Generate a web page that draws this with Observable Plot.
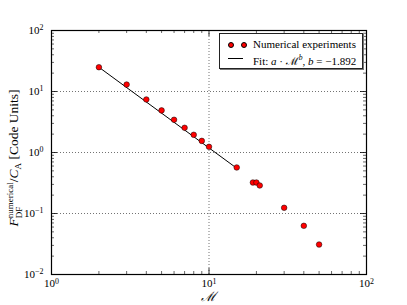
<!DOCTYPE html>
<html><head><meta charset="utf-8">
<script src="https://cdn.jsdelivr.net/npm/d3@7"></script>
<script src="https://cdn.jsdelivr.net/npm/@observablehq/plot@0.6"></script>
<style>
body{margin:0;background:#fff;}
#wrap{position:relative;width:407px;height:305px;font-family:"Liberation Serif","DejaVu Serif",serif;}
#legend{position:absolute;left:219px;top:33px;width:142px;height:34px;border:1px solid #222;box-shadow:1px 1px 0 #777;background:#fff;font-size:11px;color:#000;font-family:"Liberation Serif","DejaVu Serif",serif;}
#legend .row{position:absolute;left:0;height:14px;line-height:14px;white-space:nowrap;}
#legend .dot{position:absolute;width:4px;height:4px;border-radius:50%;background:#f00;border:0.5px solid #000;}
#legend .ln{position:absolute;height:0;border-top:1px solid #000;}
#legend .txt{position:absolute;left:33px;font-family:"Liberation Serif",serif;}
</style></head><body><div id="wrap"></div>
<script>
const machNumbers = [2, 3, 4, 5, 6, 7, 8, 9, 10, 15, 19, 20, 21, 30, 40, 50];
const forceValues = [25.0, 13.0, 7.4, 4.9, 3.44, 2.54, 1.95, 1.55, 1.24, 0.568, 0.322, 0.322, 0.288, 0.124, 0.0628, 0.031];
const fitMach = [2, 15];
const fitForce = [25.0, 0.552];
const xMajor = [1, 10, 100];
const yMajor = [0.01, 0.1, 1, 10, 100];
const xMinor = [2, 3, 4, 5, 6, 7, 8, 9, 20, 30, 40, 50, 60, 70, 80, 90];
const yMinor = [0.02, 0.03, 0.04, 0.05, 0.06, 0.07, 0.08, 0.09, 0.2, 0.3, 0.4, 0.5, 0.6, 0.7, 0.8, 0.9,
  2, 3, 4, 5, 6, 7, 8, 9, 20, 30, 40, 50, 60, 70, 80, 90];
const xGrid = [10];
const yGrid = [0.1, 1, 10];
const legendLabels = ["Numerical experiments", "Fit: <i>a</i> · ℳ<sup style=\"font-size:0.7em;font-style:italic\">b</sup>, <i>b</i> = −1.892"];

const points = machNumbers.map((m, i) => ({m, f: forceValues[i]}));
const fit = fitMach.map((m, i) => ({m, f: fitForce[i]}));

const W = 407, H = 305, mt = 30, mb = 31, ml = 51, mr = 41;
const innerH = H - mt - mb, innerW = W - ml - mr;
const expFmt = d => "10^" + String(Math.round(Math.log10(d))).replace("-", "\u2212");

const chart = Plot.plot({
  width: W, height: H, marginTop: mt, marginBottom: mb, marginLeft: ml, marginRight: mr,
  style: {fontFamily: "Liberation Serif, DejaVu Serif, serif", fontSize: "11px", background: "white", color: "#000"},
  x: {type: "log", domain: [1, 100]},
  y: {type: "log", domain: [0.01, 100]},
  marks: [
    Plot.gridX(xGrid, {stroke: "#000", strokeOpacity: 0.55, strokeDasharray: "1,2"}),
    Plot.gridY(yGrid, {stroke: "#000", strokeOpacity: 0.55, strokeDasharray: "1,2"}),
    Plot.ruleX(xMinor, {x: d => d, insetTop: innerH - 3, stroke: "#000", strokeWidth: 0.6}),
    Plot.ruleX(xMinor, {x: d => d, insetBottom: innerH - 3, stroke: "#000", strokeWidth: 0.6}),
    Plot.ruleX(xMajor, {x: d => d, insetTop: innerH - 6, stroke: "#000", strokeWidth: 0.8}),
    Plot.ruleX(xMajor, {x: d => d, insetBottom: innerH - 6, stroke: "#000", strokeWidth: 0.8}),
    Plot.ruleY(yMinor, {y: d => d, insetRight: innerW - 3, stroke: "#000", strokeWidth: 0.6}),
    Plot.ruleY(yMinor, {y: d => d, insetLeft: innerW - 3, stroke: "#000", strokeWidth: 0.6}),
    Plot.ruleY(yMajor, {y: d => d, insetRight: innerW - 6, stroke: "#000", strokeWidth: 0.8}),
    Plot.ruleY(yMajor, {y: d => d, insetLeft: innerW - 6, stroke: "#000", strokeWidth: 0.8}),
    Plot.axisX(xMajor, {tickSize: 0, tickPadding: 5, tickFormat: expFmt, label: null, fontSize: 11}),
    Plot.axisY(yMajor, {tickSize: 0, tickPadding: 8, tickFormat: expFmt, label: null, fontSize: 11}),
    Plot.frame({stroke: "#000", strokeWidth: 1.2}),
    Plot.line(fit, {x: "m", y: "f", stroke: "#000", strokeWidth: 1}),
    Plot.dot(points, {x: "m", y: "f", r: 2.8, fill: "#f00", stroke: "#000", strokeWidth: 0.5})
  ]
});

const wrap = document.getElementById("wrap");
wrap.appendChild(chart);
const svg = d3.select(chart);

svg.selectAll('g[aria-label="x-axis tick label"] text, g[aria-label="y-axis tick label"] text').each(function() {
  const parts = this.textContent.split("^");
  if (parts.length === 2) {
    const s = d3.select(this);
    s.text(parts[0]);
    s.append("tspan").attr("dy", "-0.45em").attr("font-size", "0.72em").text(parts[1]);
  }
});

// x label
svg.append("text").attr("x", ml + innerW / 2).attr("y", 301).attr("text-anchor", "middle")
  .attr("font-size", 13).attr("font-family", "DejaVu Serif, serif").attr("font-style", "italic").text("ℳ");

// y label
const fs = 13.5, small = 9;
const yl = svg.append("text").attr("font-size", fs).attr("font-family", "Liberation Serif, serif");
yl.append("tspan").attr("font-style", "italic").text("F");
const sup = yl.append("tspan").attr("font-size", small).attr("dy", -5.5).text("numerical");
const supW = sup.node().getComputedTextLength();
const sub = yl.append("tspan").attr("font-size", small).attr("dx", -supW).attr("dy", 9.5).text("DF");
const subW = sub.node().getComputedTextLength();
yl.append("tspan").attr("dx", supW - subW).attr("dy", -4).text("/");
yl.append("tspan").attr("font-style", "italic").text("C");
yl.append("tspan").attr("font-size", small).attr("dy", 3).text("A");
yl.append("tspan").attr("dy", -3).text("\u00a0[Code Units]");
const bb = yl.node().getBBox();
const yTop = 76, yBottom = 241;
const cy = (yTop + yBottom) / 2;
yl.attr("transform", `translate(18,${cy + bb.width / 2 + bb.x}) rotate(-90)`);

// legend
const lg = document.createElement("div");
lg.id = "legend";
lg.innerHTML = `
<div class="row" style="top:3px;width:100%">
  <span class="dot" style="left:8px;top:5px"></span><span class="dot" style="left:21px;top:5px"></span>
  <span class="txt">${legendLabels[0]}</span></div>
<div class="row" style="top:17px;width:100%">
  <span class="ln" style="left:8px;width:15px;top:7px"></span>
  <span class="txt">${legendLabels[1]}</span></div>`;
wrap.appendChild(lg);
</script></body></html>
